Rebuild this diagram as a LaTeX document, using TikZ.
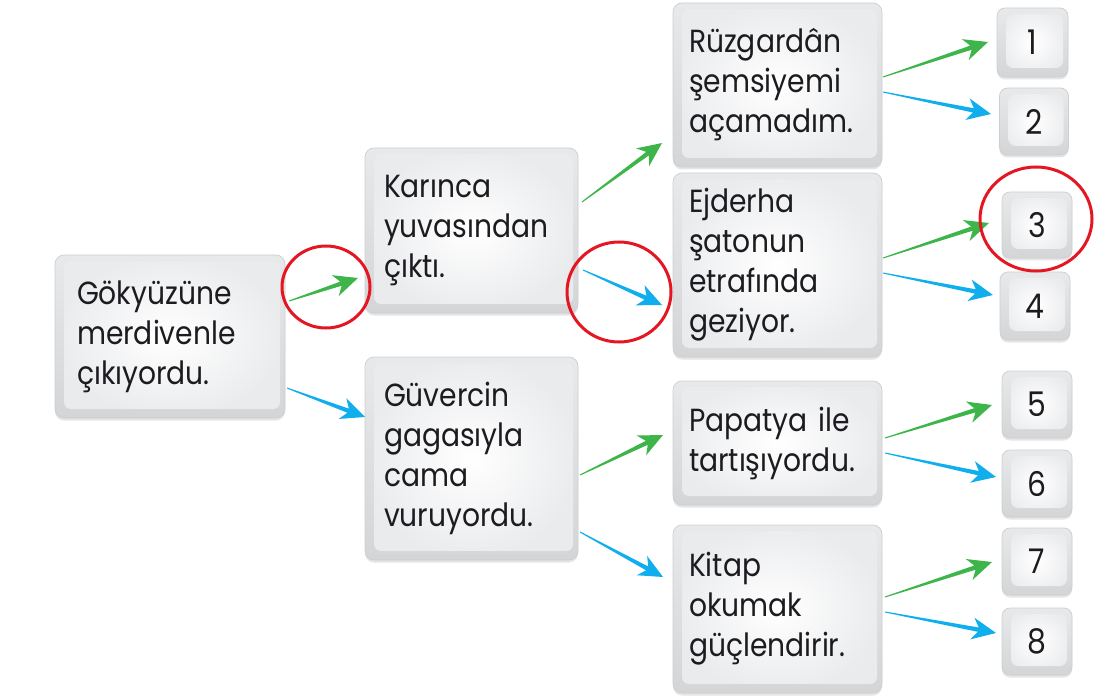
\documentclass[tikz,border=0pt]{standalone}
\usepackage{fontspec}
\newfontfamily\boxfont[FakeStretch=0.88]{Poppins}
\usetikzlibrary{calc}
\definecolor{argreen}{RGB}{61,181,74}
\definecolor{arblue}{RGB}{16,174,236}
\definecolor{mkred}{RGB}{228,22,34}
\definecolor{txt}{RGB}{28,28,32}
\definecolor{beveltop}{RGB}{232,233,235}
\definecolor{bevelbot}{RGB}{212,213,215}
\definecolor{rim}{RGB}{205,206,208}
\definecolor{panelout}{RGB}{234,235,237}
\tikzset{
  card/.style={rectangle, rounded corners=9pt, draw=rim, line width=0.7pt,
    top color=beveltop, bottom color=bevelbot,
    preaction={fill=black!10, transform canvas={yshift=-2.5pt}},
    path picture={\shade[inner color=white, outer color=panelout, rounded corners=7pt]
      ([shift={(9pt,-6pt)}]path picture bounding box.north west) rectangle
      ([shift={(-5pt,9pt)}]path picture bounding box.south east);},
    font=\boxfont\fontsize{32}{40}\selectfont, text=txt, align=left, inner ysep=0pt},
  keycap/.style={card, rounded corners=8pt, align=center, inner sep=0pt,
    font=\boxfont\fontsize{34}{40}\selectfont},
  redring/.style={draw=mkred, line width=3pt}
}
\newcommand\taper[3]{%
  \path let \p1=(#2), \p2=(#3), \n1={atan2(\y2-\y1,\x2-\x1)}, \n2={veclen(\x2-\x1,\y2-\y1)} in
    \pgfextra{\xdef\tpang{\n1}\xdef\tplen{\n2}};
  \fill[#1, shift={(#3)}, rotate=\tpang] (0pt,0pt) -- (-24pt,11pt) -- (-18pt,2.2pt)
    -- (-\tplen,0.5pt) -- (-\tplen,-0.5pt) -- (-18pt,-2.2pt) -- (-24pt,-11pt) -- cycle;}
\begin{document}
\begin{tikzpicture}[x=1pt,y=-1pt]
\useasboundingbox (0,0) rectangle (1107,700);
% sentence cards
\node[card, minimum width=230pt, minimum height=163pt, text width=186pt, inner xsep=22pt] (A) at (170,336.5) {Gökyüzüne\\merdivenle\\çıkıyordu.};
\node[card, minimum width=213pt, minimum height=165pt, text width=175pt, inner xsep=19pt] (B) at (471.5,230.5) {Karınca\\yuvasından\\çıktı.};
\node[card, minimum width=213pt, minimum height=203pt, text width=175pt, inner xsep=19pt] (C) at (471.5,458.5) {Güvercin\\gagasıyla\\cama\\vuruyordu.};
\node[card, minimum width=209pt, minimum height=164pt, text width=177pt, inner xsep=16pt] (D) at (777.5,85) {Rüzgardân\\şemsiyemi\\açamadım.};
\node[card, minimum width=209pt, minimum height=184pt, text width=177pt, inner xsep=16pt] (E) at (777.5,265) {Ejderha\\şatonun\\etrafında\\geziyor.};
\node[card, minimum width=209pt, minimum height=124pt, text width=177pt, inner xsep=16pt] (F) at (777.5,443) {Papatya ile\\tartışıyordu.};
\node[card, minimum width=209pt, minimum height=168pt, text width=177pt, inner xsep=16pt] (G) at (777.5,609) {Kitap\\okumak\\güçlendirir.};
% number keys
\node[keycap, minimum width=71pt, minimum height=69pt] (k1) at (1032.5,42.5) {1};
\node[keycap, minimum width=69pt, minimum height=67pt] (k2) at (1034,121.5) {2};
\node[keycap, minimum width=70pt, minimum height=66pt] (k3) at (1037,225) {3};
\node[keycap, minimum width=70pt, minimum height=68pt] (k4) at (1035,306) {4};
\node[keycap, minimum width=70pt, minimum height=67pt] (k5) at (1037,404.5) {5};
\node[keycap, minimum width=70pt, minimum height=67pt] (k6) at (1037,483.5) {6};
\node[keycap, minimum width=70pt, minimum height=67pt] (k7) at (1037,561.5) {7};
\node[keycap, minimum width=70pt, minimum height=67pt] (k8) at (1037,641.5) {8};
% arrow end points
\coordinate (ab0) at (289,301); \coordinate (ab1) at (358,278);
\coordinate (ac0) at (287,388); \coordinate (ac1) at (365,417);
\coordinate (bd0) at (582,202); \coordinate (bd1) at (662,143);
\coordinate (be0) at (583,270); \coordinate (be1) at (662,305);
\coordinate (cf0) at (580,475); \coordinate (cf1) at (663,435);
\coordinate (cg0) at (580,532); \coordinate (cg1) at (663,577);
\coordinate (d10) at (883,77);  \coordinate (d11) at (988,42);
\coordinate (d20) at (883,92);  \coordinate (d21) at (991,114);
\coordinate (e30) at (883,258); \coordinate (e31) at (989,223);
\coordinate (e40) at (883,273); \coordinate (e41) at (993,295);
\coordinate (f50) at (885,438); \coordinate (f51) at (992,405);
\coordinate (f60) at (885,453); \coordinate (f61) at (996,477);
\coordinate (g70) at (885,597); \coordinate (g71) at (992,562);
\coordinate (g80) at (885,612); \coordinate (g81) at (996,633);
\taper{argreen}{ab0}{ab1}
\taper{arblue}{ac0}{ac1}
\taper{argreen}{bd0}{bd1}
\taper{arblue}{be0}{be1}
\taper{argreen}{cf0}{cf1}
\taper{arblue}{cg0}{cg1}
\taper{argreen}{d10}{d11}
\taper{arblue}{d20}{d21}
\taper{argreen}{e30}{e31}
\taper{arblue}{e40}{e41}
\taper{argreen}{f50}{f51}
\taper{arblue}{f60}{f61}
\taper{argreen}{g70}{g71}
\taper{arblue}{g80}{g81}
% red markings
\draw[redring] (326,287) ellipse [x radius=44pt, y radius=41pt];
\draw[redring] (619,292) ellipse [x radius=52pt, y radius=50pt];
\draw[redring] (1036,219) ellipse [x radius=56pt, y radius=52pt];
\end{tikzpicture}
\end{document}
